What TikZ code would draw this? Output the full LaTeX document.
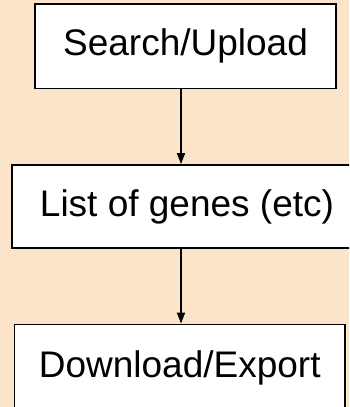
\documentclass[tikz,border=0pt]{standalone}
\usepackage{fontspec}
\setmainfont{Liberation Sans}
\usetikzlibrary{arrows.meta}
\definecolor{peach}{HTML}{FCE4CA}
\begin{document}
\begin{tikzpicture}[x=1pt,y=1pt,
  flowbox/.style={draw=black,line width=1.8pt,fill=white,inner sep=0pt,
    font=\fontsize{37}{40}\selectfont},
  flowarrow/.style={line width=1.8pt,-{Triangle[width=8pt,length=11pt]}}]
\useasboundingbox (0,0) rectangle (349,407);
\fill[peach] (0,0) rectangle (349,407);
\begin{scope}
\clip (0,0) rectangle (349,407);
\node[flowbox,minimum width=301pt,minimum height=84.5pt] (s) at (185.5,360.75) {Search/Upload};
\node[flowbox,minimum width=349.5pt,minimum height=83pt] (l) at (187,200.5) {List of genes (etc)};
\node[flowbox,minimum width=330.5pt,minimum height=87.5pt] (d) at (179.75,38.75) {Download/Export};
\end{scope}
\coordinate (ax) at (181,0);
\draw[flowarrow] (s.south -| ax) -- (l.north -| ax);
\draw[flowarrow] (l.south -| ax) -- (d.north -| ax);
\end{tikzpicture}
\end{document}
